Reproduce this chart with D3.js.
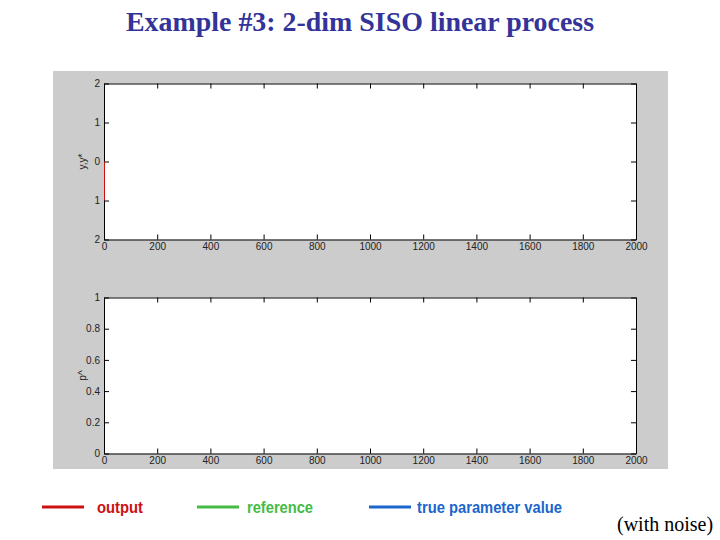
<!DOCTYPE html>
<html>
<head>
<meta charset="utf-8">
<script src="https://cdn.jsdelivr.net/npm/d3@7"></script>
<style>
html,body{margin:0;padding:0;background:#fff;}
svg{display:block;}
</style>
</head>
<body>
<svg id="chart" width="720" height="540"></svg>
<script>
// ---- data ----
const titleText = "Example #3: 2-dim SISO linear process";
const xTicks = [0, 200, 400, 600, 800, 1000, 1200, 1400, 1600, 1800, 2000];
const topYTicks = [2, 1, 0, -1, -2];
const topYTickLabels = ["2", "1", "0", "1", "2"];
const bottomYTicks = [1, 0.8, 0.6, 0.4, 0.2, 0];
const bottomYTickLabels = ["1", "0.8", "0.6", "0.4", "0.2", "0"];
const outputT = [0, 0];
const outputY = [0, -1];
const legendNames = ["output", "reference", "true parameter value"];
const legendColors = ["#cc1111", "#44bb44", "#1a66cc"];

const svg = d3.select("#chart");

// title
svg.append("text").attr("x", 360).attr("y", 31).attr("text-anchor", "middle")
  .attr("font-family", "'Liberation Serif','Times New Roman',serif")
  .attr("font-weight", "bold").attr("font-size", 27).attr("fill", "#333399")
  .attr("textLength", 468).attr("lengthAdjust", "spacingAndGlyphs")
  .text(titleText);

// figure background
svg.append("rect").attr("x", 53).attr("y", 71).attr("width", 615).attr("height", 398).attr("fill", "#cccccc");

function panel(top, bottom, yDomain, yTicks, yLabels, yTitle) {
  const x = d3.scaleLinear().domain([0, 2000]).range([104, 636]);
  const y = d3.scaleLinear().domain(yDomain).range([bottom, top]);
  const g = svg.append("g");
  g.append("rect").attr("x", 104).attr("y", top).attr("width", 532).attr("height", bottom - top).attr("fill", "#fff");
  const font = "'Liberation Sans',Arial,sans-serif";
  const fmtX = (d) => String(d);
  const fmtY = (d, i) => yLabels[i];
  const ax = g.append("g").attr("transform", `translate(0,${bottom})`)
    .call(d3.axisBottom(x).tickValues(xTicks).tickSizeInner(-5).tickSizeOuter(0).tickPadding(3).tickFormat(fmtX));
  g.append("g").attr("transform", `translate(0,${top})`)
    .call(d3.axisTop(x).tickValues(xTicks).tickSizeInner(-5).tickSizeOuter(0).tickFormat(""));
  g.append("g").attr("transform", `translate(104,0)`)
    .call(d3.axisLeft(y).tickValues(yTicks).tickSizeInner(-5).tickSizeOuter(0).tickPadding(4).tickFormat(fmtY));
  g.append("g").attr("transform", `translate(636,0)`)
    .call(d3.axisRight(y).tickValues(yTicks).tickSizeInner(-5).tickSizeOuter(0).tickFormat(""));
  g.selectAll(".domain").attr("stroke", "#000").attr("stroke-width", 1);
  g.selectAll(".tick line").attr("stroke", "#000");
  g.selectAll(".tick text").attr("font-family", font).attr("font-size", 10).attr("fill", "#222");
  ax.selectAll(".tick text").attr("dy", "0.75em");
  g.append("text").attr("transform", `translate(86,${(top + bottom) / 2}) rotate(-90)`)
    .attr("text-anchor", "middle").attr("font-family", font).attr("font-size", 10).attr("fill", "#222")
    .text(yTitle);
  return { x, y, g };
}

const p1 = panel(83.5, 239.5, [-2, 2], topYTicks, topYTickLabels, "y,y*");
const p2 = panel(297.5, 453.5, [0, 1], bottomYTicks, bottomYTickLabels, "p^");

// output series
const line = d3.line().x((d) => p1.x(d[0])).y((d) => p1.y(d[1]));
p1.g.append("path").datum(d3.zip(outputT, outputY)).attr("d", line)
  .attr("fill", "none").attr("stroke", legendColors[0]).attr("stroke-width", 1).attr("transform", "translate(0.5,0)");

// legend
const legX = [42, 197, 369];
const legTextX = [97, 247, 417];
const legTextW = [46, 66, 145];
legendNames.forEach((name, i) => {
  svg.append("line").attr("x1", legX[i]).attr("x2", legX[i] + 42).attr("y1", 507).attr("y2", 507)
    .attr("stroke", legendColors[i]).attr("stroke-width", 3);
  svg.append("text").attr("x", legTextX[i]).attr("y", 513)
    .attr("font-family", "'Liberation Sans',Arial,sans-serif").attr("font-weight", "bold")
    .attr("font-size", 16).attr("fill", legendColors[i])
    .attr("textLength", legTextW[i]).attr("lengthAdjust", "spacingAndGlyphs")
    .text(name);
});

svg.append("text").attr("x", 617).attr("y", 531)
  .attr("font-family", "'Liberation Serif','Times New Roman',serif").attr("font-size", 20).attr("fill", "#000")
  .text("(with noise)");
</script>
</body>
</html>
